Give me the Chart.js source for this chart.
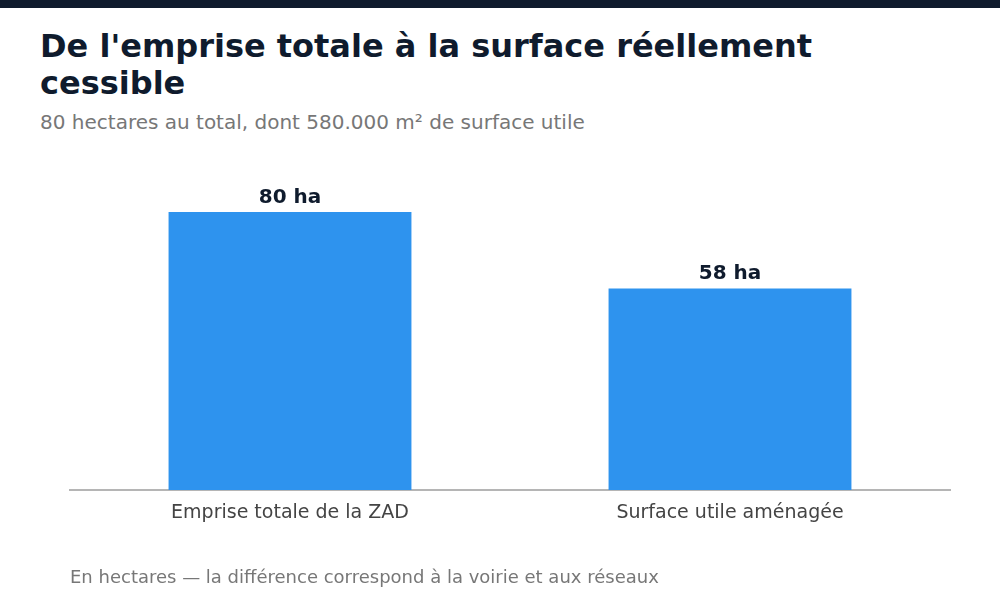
<!DOCTYPE html>
<html>
<head>
<meta charset="utf-8">
<script src="https://cdn.jsdelivr.net/npm/chart.js@4"></script>
<style>
  html, body { margin: 0; padding: 0; background: #fff; }
  body { width: 1000px; height: 600px; position: relative; overflow: hidden; font-family: "DejaVu Sans", sans-serif; }
  .topbar { position: absolute; left: 0; top: 0; width: 1000px; height: 8px; background: #0f1b2d; }
  h1 { position: absolute; left: 40px; top: 28px; width: 920px; margin: 0; font-size: 32px; line-height: 37px; font-weight: bold; color: #0f1b2d; }
  .sub { position: absolute; left: 40px; top: 110px; margin: 0; font-size: 20px; line-height: 24px; color: #777; }
  .foot { position: absolute; left: 70px; top: 566px; margin: 0; font-size: 18px; line-height: 22px; color: #777; }
  #chart { position: absolute; left: 0; top: 0; }
</style>
</head>
<body>
<div class="topbar"></div>
<h1>De l'emprise totale à la surface réellement cessible</h1>
<p class="sub">80 hectares au total, dont 580.000 m² de surface utile</p>
<canvas id="chart" width="1000" height="600"></canvas>
<p class="foot">En hectares — la différence correspond à la voirie et aux réseaux</p>
<script>
var categories = ["Emprise totale de la ZAD", "Surface utile aménagée"];
var surfaces = [80, 58];
var valueLabels = ["80 ha", "58 ha"];

// étiquettes au-dessus des barres
var barLabels = {
    id: 'barLabels',
    afterDatasetsDraw: function(chart) {
        var ctx = chart.ctx;
        var meta = chart.getDatasetMeta(0);
        ctx.save();
        ctx.font = 'bold 20px "DejaVu Sans"';
        ctx.fillStyle = '#0f1b2d';
        ctx.textAlign = 'center';
        ctx.textBaseline = 'alphabetic';
        meta.data.forEach(function(bar, i) {
            ctx.fillText(valueLabels[i], bar.x, bar.y - 9);
        });
        ctx.restore();
    }
};

var ctx = document.getElementById("chart");
var myChart = new Chart(ctx, {
    type: 'bar',
    data: {
        labels: categories,
        datasets: [{
            data: surfaces,
            backgroundColor: '#2e93ee',
            borderWidth: 0,
            barPercentage: 0.552,
            categoryPercentage: 1
        }]
    },
    options: {
        responsive: false,
        animation: false,
        layout: {
            padding: { left: 70, right: 50, top: 142.5, bottom: 0 }
        },
        plugins: {
            legend: { display: false },
            tooltip: { enabled: false }
        },
        scales: {
            x: {
                afterFit: function(scale) { scale.height = 110; },
                grid: { display: false, drawTicks: false },
                border: { display: true, color: '#b5b5b5', width: 2 },
                ticks: {
                    color: '#444',
                    font: { family: 'DejaVu Sans', size: 19 },
                    padding: 12,
                    maxRotation: 0
                }
            },
            y: {
                display: false,
                min: 0,
                max: 100
            }
        }
    },
    plugins: [barLabels]
});
</script>
</body>
</html>
